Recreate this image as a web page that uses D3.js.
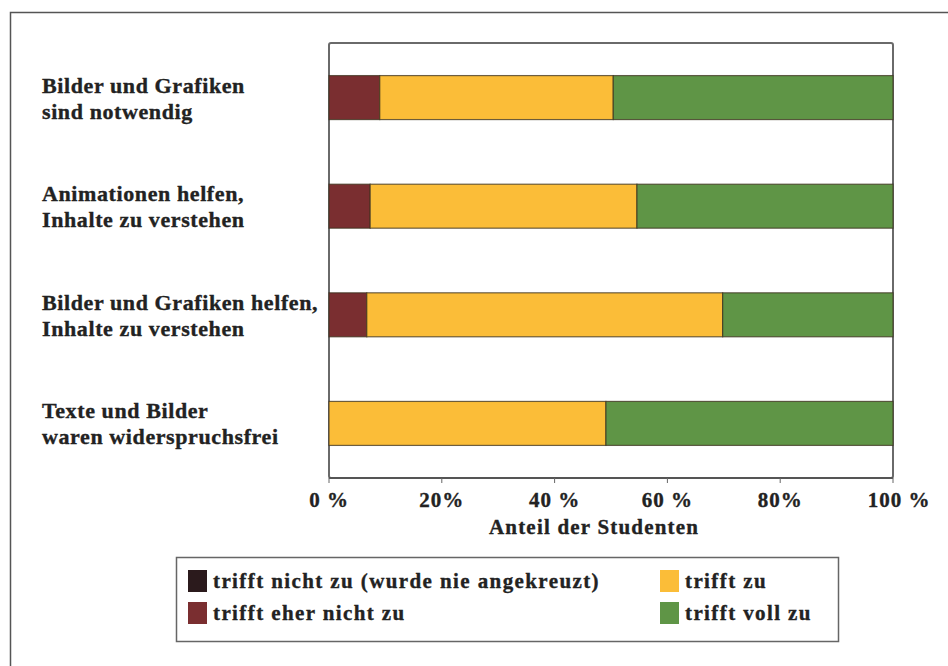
<!DOCTYPE html>
<html>
<head>
<meta charset="utf-8">
<script src="https://cdn.jsdelivr.net/npm/d3@7/dist/d3.min.js"></script>
<style>
  body { margin: 0; background: #fff; }
  svg text { font-family: "Liberation Serif", "DejaVu Serif", serif; font-weight: bold; fill: #222; stroke: #222; stroke-width: 0.35; }
</style>
</head>
<body>
<div id="chart"></div>
<script>
// Kategorien (von oben nach unten), jeweils zwei Zeilen
var categories = [
    ['Bilder und Grafiken', 'sind notwendig'],
    ['Animationen helfen,', 'Inhalte zu verstehen'],
    ['Bilder und Grafiken helfen,', 'Inhalte zu verstehen'],
    ['Texte und Bilder', 'waren widerspruchsfrei']
]
var seriesNames = ['trifft nicht zu (wurde nie angekreuzt)', 'trifft eher nicht zu', 'trifft zu', 'trifft voll zu']
var seriesColors = ['#2b1a1c', '#7a2e30', '#fbbd38', '#5f9546']
// Werte in Prozent je Kategorie
var nichtZu = [0, 0, 0, 0]
var eherNicht = [9, 7.3, 6.7, 0]
var trifftZu = [41.4, 47.3, 63.1, 49.1]
var vollZu = [49.6, 45.4, 30.2, 50.9]
var xTicks = [0, 20, 40, 60, 80, 100]
var xTickLabels = ['0 %', '20%', '40 %', '60 %', '80%', '100 %']
var xTitle = 'Anteil der Studenten'

var width = 948
var height = 666
var plotLeft = 329
var plotRight = 893
var plotTop = 43
var plotBottom = 478

var svg = d3.select('#chart').append('svg')
    .attr('width', width)
    .attr('height', height)

// äußerer Rahmen (läuft rechts/unten aus dem Bild)
svg.append('rect')
    .attr('x', 10.5).attr('y', 12.5)
    .attr('width', 960).attr('height', 700)
    .attr('fill', 'none')
    .attr('stroke', '#555')
    .attr('stroke-width', 1.5)

var X = d3.scaleLinear().domain([0, 100]).range([plotLeft, plotRight])
var Y = d3.scaleBand()
    .domain(d3.range(categories.length))
    .range([plotTop, plotBottom])
    .paddingInner(0.595)
    .paddingOuter(0.3)

var rows = categories.map(function (c, i) {
    return { i: i, v: [nichtZu[i], eherNicht[i], trifftZu[i], vollZu[i]] }
})
var stack = d3.stack().keys([0, 1, 2, 3]).value(function (d, k) { return d.v[k] })
var layers = stack(rows)

// Plotrahmen
svg.append('rect')
    .attr('x', plotLeft).attr('y', plotTop)
    .attr('width', plotRight - plotLeft).attr('height', plotBottom - plotTop)
    .attr('rx', 2)
    .attr('fill', 'none')
    .attr('stroke', '#6a6a6a')
    .attr('stroke-width', 2)

svg.append('g').selectAll('g')
    .data(layers)
    .enter()
    .append('g')
    .attr('fill', function (d, i) { return seriesColors[i] })
    .selectAll('rect')
    .data(function (d) { return d.filter(function (s) { return s[1] - s[0] > 0 }) })
    .enter()
    .append('rect')
    .attr('x', function (d) { return X(d[0]) })
    .attr('y', function (d) { return Y(d.data.i) })
    .attr('width', function (d) { return X(d[1]) - X(d[0]) })
    .attr('height', Y.bandwidth())
    .attr('stroke', 'rgba(60,50,30,0.75)')
    .attr('stroke-width', 1.2)

// x-Achse
var xAxis = svg.append('g')
    .attr('transform', 'translate(0,' + plotBottom + ')')
xAxis.append('line')
    .attr('x1', plotLeft).attr('x2', plotRight)
    .attr('stroke', '#555').attr('stroke-width', 2)
xAxis.selectAll('line.tick')
    .data(xTicks)
    .enter()
    .append('line')
    .attr('class', 'tick')
    .attr('x1', function (d) { return X(d) })
    .attr('x2', function (d) { return X(d) })
    .attr('y1', 0).attr('y2', 5)
    .attr('stroke', '#666').attr('stroke-width', 1)
xAxis.selectAll('text')
    .data(xTicks)
    .enter()
    .append('text')
    .attr('x', function (d) { return X(d) + (d === 100 ? 6 : 0) })
    .attr('y', 29)
    .attr('text-anchor', 'middle')
    .attr('font-size', 21)
    .attr('letter-spacing', 1)
    .text(function (d, i) { return xTickLabels[i] })

// Achsentitel sitzt im Original etwas links der Mitte
svg.append('text')
    .attr('x', X(47))
    .attr('y', 534)
    .attr('text-anchor', 'middle')
    .attr('font-size', 21)
    .attr('letter-spacing', 1.2)
    .text(xTitle)

// Kategorienbeschriftung
var labels = svg.append('g').selectAll('text')
    .data(categories)
    .enter()
    .append('text')
    .attr('font-size', 22)
    .attr('letter-spacing', 0.6)
    .attr('y', function (d, i) { return Y(i) + Y.bandwidth() / 2 })
labels.selectAll('tspan')
    .data(function (d) { return d })
    .enter()
    .append('tspan')
    .attr('x', 42)
    .attr('dy', function (d, j) { return j === 0 ? -5 : 26 })
    .text(function (d) { return d })

// Legende
var legend = svg.append('g')
legend.append('rect')
    .attr('x', 176.5).attr('y', 557.5)
    .attr('width', 662).attr('height', 84)
    .attr('fill', 'none')
    .attr('stroke', '#666')
    .attr('stroke-width', 1.5)
var legendPos = [[188, 570], [188, 602], [660, 570], [660, 602]]
var items = legend.selectAll('g.item')
    .data(seriesNames)
    .enter()
    .append('g')
    .attr('class', 'item')
    .attr('transform', function (d, i) { return 'translate(' + legendPos[i][0] + ',' + legendPos[i][1] + ')' })
items.append('rect')
    .attr('width', 19).attr('height', 22)
    .attr('fill', function (d, i) { return seriesColors[i] })
items.append('text')
    .attr('x', 25).attr('y', 18)
    .attr('font-size', 21)
    .attr('letter-spacing', 1.4)
    .text(function (d) { return d })
</script>
</body>
</html>
